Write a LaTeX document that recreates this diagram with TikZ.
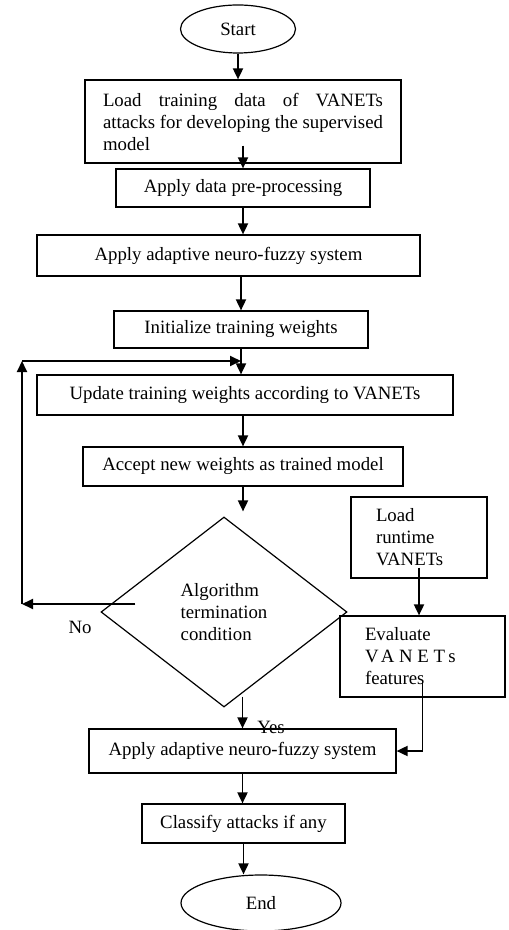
\documentclass[tikz,border=0pt]{standalone}
\usepackage{fontspec}
\setmainfont{Liberation Serif}
\usetikzlibrary{shapes, arrows.meta, positioning}

\begin{document}
\begin{tikzpicture}[x=0.5pt, y=-0.5pt,
  font=\fontsize{9.4}{11}\selectfont,
  stepbox/.style={draw, line width=0.6pt, inner sep=0pt, align=center},
  termin/.style={draw, ellipse, line width=0.6pt, inner sep=0pt},
  decide/.style={draw, diamond, line width=0.6pt, inner sep=0pt, align=left},
  arr/.style={-{Triangle[length=5.5pt, width=5pt]}, line width=0.9pt}
]
  \useasboundingbox (0,0) rectangle (508,930);

  \node[termin, minimum width=57.5pt, minimum height=24pt] (start) at (238,29) {Start};
  \node[stepbox, minimum width=158pt, minimum height=41.5pt, text width=140pt, align=justify] (load) at (243,121.5)
    {Load training data of VANETs\linebreak attacks for developing the supervised model};
  \node[stepbox, minimum width=127pt, minimum height=19pt] (pre) at (243,188) {Apply data pre-processing};
  \node[stepbox, minimum width=191.5pt, minimum height=20.5pt] (anfis1) at (228.5,255.5) {Apply adaptive neuro-fuzzy system};
  \node[stepbox, minimum width=127pt, minimum height=18.5pt] (init) at (241,329.5) {Initialize training weights};
  \node[stepbox, minimum width=208pt, minimum height=20pt] (update) at (245,395) {Update training weights according to VANETs};
  \node[stepbox, minimum width=160pt, minimum height=19.5pt] (accept) at (243,466.5) {Accept new weights as trained model};
  \node[decide, minimum width=123pt, minimum height=95pt] (check) at (224,612) {Algorithm\\termination\\condition};
  \node[stepbox, minimum width=68pt, minimum height=40.5pt, text width=43pt, align=left] (runtime) at (419,537.5)
    {Load\\runtime\\VANETs};
  \node[stepbox, minimum width=82.5pt, minimum height=40.5pt, text width=57.5pt, align=left] (eval) at (422.5,656.5)
    {Evaluate\\{\addfontfeature{LetterSpace=25}VANETs}\\features};
  \node[stepbox, minimum width=153.5pt, minimum height=22pt] (anfis2) at (242.5,751) {Apply adaptive neuro-fuzzy system};
  \node[stepbox, minimum width=101.5pt, minimum height=19.5pt] (classify) at (243.5,823.5) {Classify attacks if any};
  \node[termin, minimum width=80pt, minimum height=28pt] (stop) at (261,903) {End};

  \node (nolbl) at (80,627) {No};
  \node (yeslbl) at (271,727) {Yes};

  \coordinate (noL) at (22,604);
  \coordinate (noT) at (22,361);

  % main flow
  \draw[arr] (start.south) -- (start.south |- load.north);
  \draw[arr] ([yshift=9pt]load.south) -- (load.south |- pre.north);
  \draw[arr] (pre.south) -- (pre.south |- anfis1.north);
  \draw[arr] (init.north |- anfis1.south) -- (init.north);
  \draw[arr] (init.south) -- (init.south |- update.north);
  \draw[arr] (accept.north |- update.south) -- (accept.north);
  \draw[arr] (accept.south) -- ([yshift=2.5pt]accept.south |- check.north);

  % loop back
  \draw[arr] ([xshift=17.5pt, yshift=4pt]check.west) -- (noL);
  \draw[arr] (noL) -- (noT);
  \draw[arr] (noT) -- (noT -| init.south);

  % runtime branch
  \draw[arr] ([yshift=5.5pt]runtime.south) -- (runtime.south |- eval.north);
  \draw[arr] ([yshift=8.5pt]eval.south) |- (anfis2.east);

  \draw[arr] ([yshift=5.5pt]anfis2.north |- check.south) -- (anfis2.north);
  \draw[arr] (anfis2.south) -- (anfis2.south |- classify.north);
  \draw[arr] (classify.south) -- (classify.south |- stop.north);
\end{tikzpicture}
\end{document}
